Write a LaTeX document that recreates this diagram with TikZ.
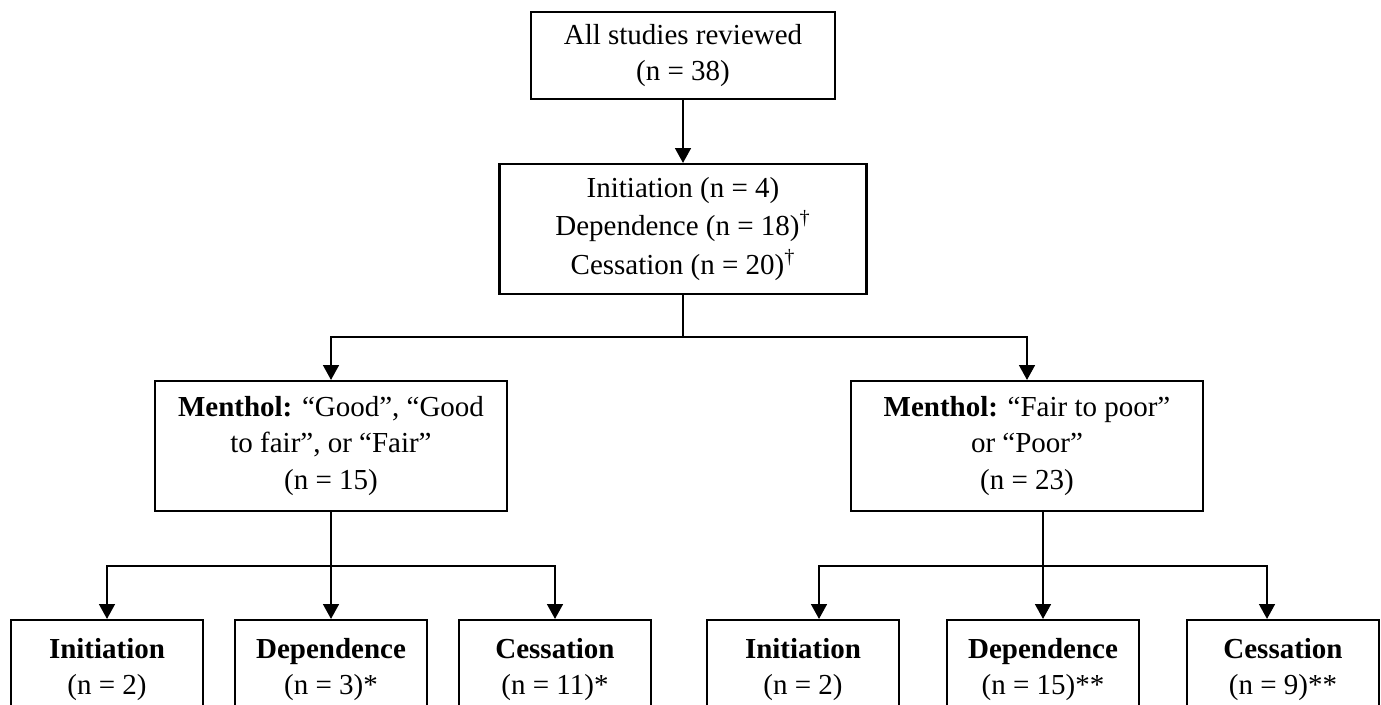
\documentclass[tikz,border=0pt]{standalone}
\usepackage{fontspec}
\setmainfont{Liberation Serif}
\usepackage{tikz}
\usetikzlibrary{arrows.meta,positioning,calc}

\begin{document}
\begin{tikzpicture}[x=0.02cm, y=-0.02cm, line width=1.2pt,
    box/.style={rectangle, draw, align=center, inner sep=2pt,
        font=\fontsize{16.5pt}{20.5pt}\selectfont},
    arr/.style={-{Triangle[length=8.5pt,width=9pt]}}]
    \useasboundingbox (0,0) rectangle (1381,704);

    % Nodes
    \node[box, minimum width=6.08cm, minimum height=1.74cm] (all) at (683,55.5) {All studies reviewed\\(n = 38)};
    \node[box, minimum width=7.34cm, minimum height=2.6cm] (groups) at (683,229)
        {Initiation (n = 4)\\[1.2pt]Dependence (n = 18)\textsuperscript{\textdagger}\\[1.2pt]Cessation (n = 20)\textsuperscript{\textdagger}};
    \node[box, minimum width=7.04cm, minimum height=2.6cm] (mgood) at (331,446)
        {\textbf{Menthol:} “Good”, “Good\\to fair”, or “Fair”\\(n = 15)};
    \node[box, minimum width=7.04cm, minimum height=2.6cm] (mpoor) at (1027,446)
        {\textbf{Menthol:} “Fair to poor”\\or “Poor”\\(n = 23)};
    \foreach \xx/\nm/\lbl/\cnt in {107/gi/Initiation/{(n = 2)}, 331/gd/Dependence/{(n = 3)*},
        555/gc/Cessation/{(n = 11)*}, 803/pi/Initiation/{(n = 2)},
        1043/pd/Dependence/{(n = 15)**}, 1283/pc/Cessation/{(n = 9)**}} {
        \node[box, minimum width=3.84cm, minimum height=2cm] (\nm) at (\xx,670) {\textbf{\lbl}\\\cnt};
    }

    % Edges
    \coordinate (split) at (683,337);
    \coordinate (lsplit) at (331,566);
    \coordinate (rsplit) at (1043,566);
    \draw[arr] (all) -- (groups);
    \draw (groups) -- (split);
    \draw[arr] (split) -| (mgood);
    \draw[arr] (split) -| (mpoor);

    \draw (mgood) -- (lsplit);
    \draw[arr] (lsplit) -| (gi);
    \draw[arr] (lsplit) -- (gd);
    \draw[arr] (lsplit) -| (gc);

    \draw (mpoor.south -| rsplit) -- (rsplit);
    \draw[arr] (rsplit) -| ($(pi.north)+(16,0)$);
    \draw[arr] (rsplit) -- (pd);
    \draw[arr] (rsplit) -| ($(pc.north)-(16,0)$);
\end{tikzpicture}
\end{document}
